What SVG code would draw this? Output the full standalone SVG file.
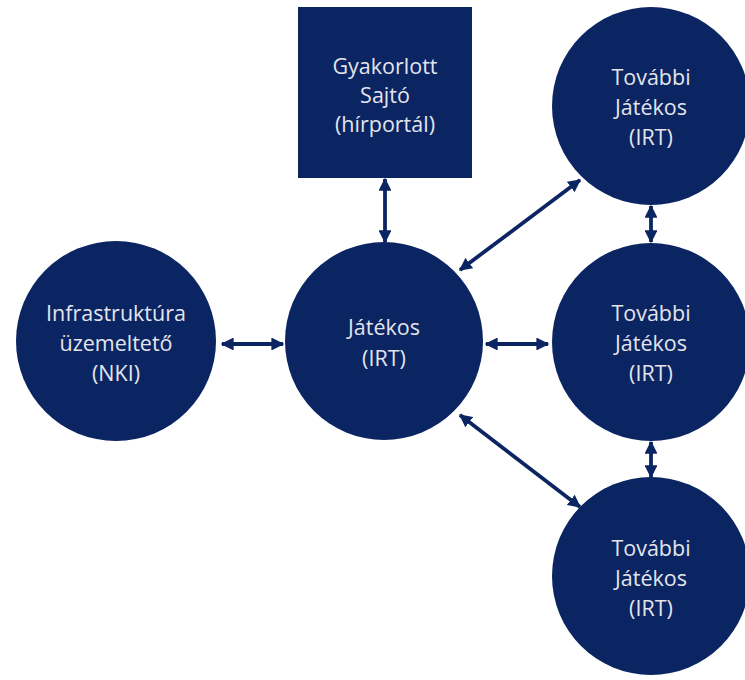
<svg xmlns="http://www.w3.org/2000/svg" width="745" height="680" viewBox="0 0 745 680">
  <style>
    .node { fill: #0b2462; }
    .label { font-family: "Open Sans", "Noto Sans", sans-serif; font-size: 21.5px; fill: #e4e5ec; text-anchor: middle; }
    .link { stroke: #0b2462; stroke-width: 3.8; fill: none; marker-start: url(#head); marker-end: url(#head); }
  </style>
  <defs>
    <marker id="head" viewBox="0 0 10 10" refX="9" refY="5" markerWidth="3.4" markerHeight="3.4" orient="auto-start-reverse" markerUnits="strokeWidth">
      <path d="M0,0 L10,5 L0,10 Z" fill="#0b2462"/>
    </marker>
  </defs>
  <rect width="745" height="680" fill="#ffffff"/>

  <g id="sajto">
    <rect class="node" x="298" y="7" width="174" height="171"/>
    <text class="label" x="385" y="74">Gyakorlott</text>
    <text class="label" x="385" y="103">Sajtó</text>
    <text class="label" x="385" y="132">(hírportál)</text>
  </g>

  <g id="nki">
    <circle class="node" cx="116" cy="341" r="100"/>
    <text class="label" x="116" y="321">Infrastruktúra</text>
    <text class="label" x="116" y="351">üzemeltető</text>
    <text class="label" x="116" y="381">(NKI)</text>
  </g>

  <g id="jatekos">
    <circle class="node" cx="384" cy="341" r="99"/>
    <text class="label" x="384" y="335">Játékos</text>
    <text class="label" x="384" y="366">(IRT)</text>
  </g>

  <g id="tovabbi-1">
    <circle class="node" cx="651" cy="106" r="99"/>
    <text class="label" x="651" y="85">További</text>
    <text class="label" x="651" y="115">Játékos</text>
    <text class="label" x="651" y="145">(IRT)</text>
  </g>

  <g id="tovabbi-2">
    <circle class="node" cx="651" cy="342" r="99"/>
    <text class="label" x="651" y="321">További</text>
    <text class="label" x="651" y="351">Játékos</text>
    <text class="label" x="651" y="381">(IRT)</text>
  </g>

  <g id="tovabbi-3">
    <circle class="node" cx="651" cy="576" r="99"/>
    <text class="label" x="651" y="556">További</text>
    <text class="label" x="651" y="586">Játékos</text>
    <text class="label" x="651" y="616">(IRT)</text>
  </g>

  <g id="connectors">
    <line class="link" x1="222" y1="344" x2="283" y2="344"/>
    <line class="link" x1="486" y1="344" x2="548" y2="344"/>
    <line class="link" x1="385" y1="179" x2="385" y2="242"/>
    <line class="link" x1="651" y1="206" x2="651" y2="242"/>
    <line class="link" x1="651" y1="442" x2="651" y2="477"/>
    <line class="link" x1="460" y1="270" x2="580" y2="180"/>
    <line class="link" x1="460" y1="415" x2="580" y2="507"/>
  </g>
</svg>
